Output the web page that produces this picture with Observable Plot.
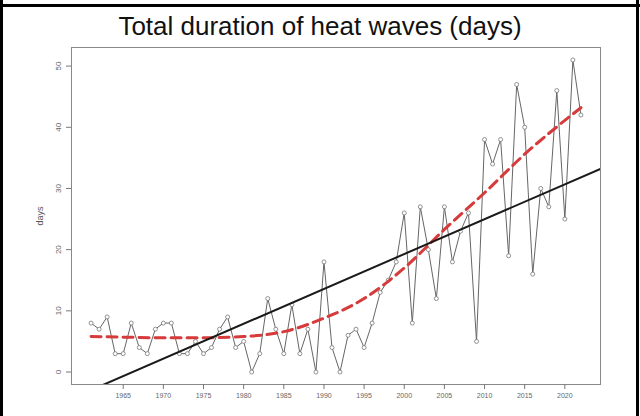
<!DOCTYPE html>
<html>
<head>
<meta charset="utf-8">
<script src="https://cdn.jsdelivr.net/npm/d3@7"></script>
<script src="https://cdn.jsdelivr.net/npm/@observablehq/plot@0.6"></script>
<style>
  html, body { margin: 0; padding: 0; background: #fff; }
  #wrap { position: relative; width: 640px; height: 416px; overflow: hidden; background: #fff; }
  .bar { position: absolute; background: #000; }
  #title { position: absolute; left: 0; width: 640px; top: 11px; text-align: center;
           font-family: "Liberation Sans", Arial, sans-serif; font-size: 26px; color: #111; line-height: 30px; }
  #chart { position: absolute; left: 0; top: 40px; }
</style>
</head>
<body>
<div id="wrap">
  <div class="bar" style="left:0;top:0;width:3px;height:416px"></div>
  <div class="bar" style="left:0;top:4px;width:640px;height:3px"></div>
  <div class="bar" style="left:636px;top:0;width:3px;height:416px"></div>
  <div id="title">Total duration of heat waves (days)</div>
  <div id="chart"></div>
</div>
<script>
// Observed years and total heat-wave days
const years = [1961,1962,1963,1964,1965,1966,1967,1968,1969,1970,
               1971,1972,1973,1974,1975,1976,1977,1978,1979,1980,
               1981,1982,1983,1984,1985,1986,1987,1988,1989,1990,
               1991,1992,1993,1994,1995,1996,1997,1998,1999,2000,
               2001,2002,2003,2004,2005,2006,2007,2008,2009,2010,
               2011,2012,2013,2014,2015,2016,2017,2018,2019,2020,
               2021,2022];
const days = [8,7,9,3,3,8,4,3,7,8,
              8,3,3,5,3,4,7,9,4,5,
              0,3,12,7,3,11,3,7,0,18,
              4,0,6,7,4,8,13,15,18,26,
              8,27,20,12,27,18,23,26,5,38,
              34,38,19,47,40,16,30,27,46,25,
              51,42];
// Smoothed trend (red dashed)
const smoothYears = [1961,1965,1970,1975,1980,1985,1990,1995,2000,2005,2010,2015,2022];
const smoothDays  = [5.8,5.7,5.6,5.6,5.8,6.6,8.8,12,17,23.3,29.3,35.6,43.2];
// Axis ticks
const xTicks = [1965,1970,1975,1980,1985,1990,1995,2000,2005,2010,2015,2020];
const yTicks = [0,10,20,30,40,50];
const yLabel = "days";

const data = years.map((y, i) => ({year: y, days: days[i]}));
const smooth = smoothYears.map((y, i) => ({year: y, days: smoothDays[i]}));

// R-style 4% axis extension
const xExt = d3.extent(years), yExt = d3.extent(days);
const xPad = (xExt[1] - xExt[0]) * 0.04, yPad = (yExt[1] - yExt[0]) * 0.04;
const xDomain = [xExt[0] - xPad, xExt[1] + xPad];
const yDomain = [yExt[0] - yPad, yExt[1] + yPad];

// Ordinary least squares regression line spanning the plot region
const mx = d3.mean(years), my = d3.mean(days);
const slope = d3.sum(data, d => (d.year - mx) * (d.days - my)) / d3.sum(data, d => (d.year - mx) ** 2);
const intercept = my - slope * mx;
const reg = xDomain.map(x => ({year: x, days: intercept + slope * x}));

const chart = Plot.plot({
  width: 640,
  height: 376,
  marginLeft: 71,
  marginRight: 40,
  marginTop: 7,
  marginBottom: 32,
  style: {fontFamily: "'Liberation Sans', Arial, sans-serif", fontSize: "7px", color: "#555", background: "transparent"},
  x: {domain: xDomain, label: null},
  y: {domain: yDomain, label: null},
  marks: [
    Plot.frame({stroke: "#888", strokeWidth: 1}),
    Plot.axisX({ticks: xTicks, tickFormat: d => String(d), tickSize: 5, tickPadding: 4, stroke: "#777", fill: "#666", label: null}),
    Plot.axisY({ticks: yTicks, tickSize: 5, stroke: "#777", text: null, label: null}),
    Plot.text(yTicks, {y: d => d, text: d => String(d), frameAnchor: "left", dx: -13, rotate: -90, textAnchor: "middle", fill: "#666", fontSize: 8}),
    Plot.text([yLabel], {text: d => d, frameAnchor: "left", dx: -31, rotate: -90, textAnchor: "middle", fill: "#555", fontSize: 9}),
    Plot.line(data, {x: "year", y: "days", stroke: "#666", strokeWidth: 1}),
    Plot.dot(data, {x: "year", y: "days", r: 2, stroke: "#777", strokeWidth: 0.8, fill: "white"}),
    Plot.line(smooth, {x: "year", y: "days", stroke: "#d63a3a", strokeWidth: 3, strokeDasharray: "10,6", curve: "monotone-x"}),
    Plot.line(reg, {x: "year", y: "days", stroke: "#1a1a1a", strokeWidth: 2, clip: true})
  ]
});
document.getElementById("chart").appendChild(chart);
</script>
</body>
</html>
